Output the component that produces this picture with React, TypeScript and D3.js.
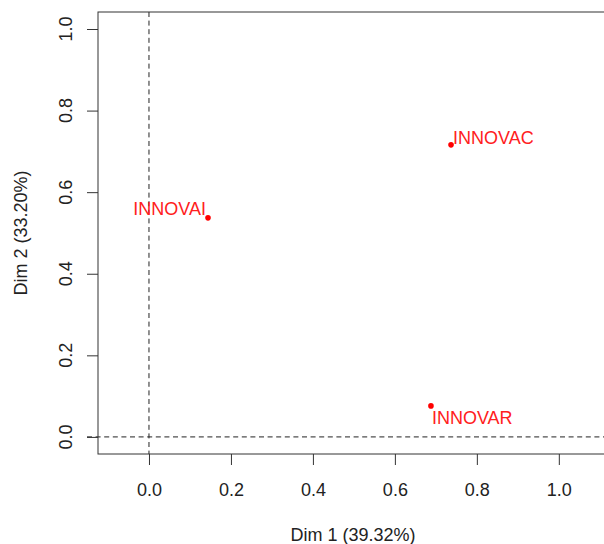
import { useEffect, useRef } from 'react'
import * as d3 from 'd3'

// coordinates of the supplementary variables (Dim 1, Dim 2)
const labels = ['INNOVAC', 'INNOVAI', 'INNOVAR']
const dim1 = [0.737, 0.144, 0.688]
const dim2 = [0.716, 0.537, 0.076]
const labelSide = ['right', 'left', 'below']

const xTicks = [0, 0.2, 0.4, 0.6, 0.8, 1.0]
const yTicks = [0, 0.2, 0.4, 0.6, 0.8, 1.0]
const xTitle = 'Dim 1 (39.32%)'
const yTitle = 'Dim 2 (33.20%)'

const W = 604
const H = 544

const App = () => {
  const svgRef = useRef<SVGSVGElement | null>(null)

  useEffect(() => {
    if (!svgRef.current) return
    const svg = d3.select(svgRef.current)
    svg.selectAll('*').remove()

    const font = '"Liberation Sans", Arial, sans-serif'
    const ink = '#222'

    const x = d3.scaleLinear().domain([-0.1244, 1.12]).range([98, 608])
    const y = d3.scaleLinear().domain([-0.0419, 1.0417]).range([454, 12])

    const [x0, x1] = x.range()
    const [y0, y1] = y.range()

    // reference lines at 0
    svg.append('line')
      .attr('x1', 87).attr('x2', W)
      .attr('y1', y(0)).attr('y2', y(0))
      .attr('stroke', ink).attr('stroke-width', 1)
      .attr('stroke-dasharray', '5,3.6')
    svg.append('line')
      .attr('x1', x(0)).attr('x2', x(0))
      .attr('y1', y1).attr('y2', y0)
      .attr('stroke', ink).attr('stroke-width', 1)
      .attr('stroke-dasharray', '5,3.6')

    // box
    svg.append('rect')
      .attr('x', x0).attr('y', y1)
      .attr('width', x1 - x0).attr('height', y0 - y1)
      .attr('fill', 'none')
      .attr('stroke', '#333').attr('stroke-width', 1)

    // x axis
    const xAxis = svg.append('g').attr('transform', `translate(0,${y0})`)
      .call(d3.axisBottom(x).tickValues(xTicks).tickSize(11).tickPadding(18)
        .tickFormat(d3.format('.1f')))
    xAxis.select('.domain').remove()
    xAxis.selectAll('line').attr('stroke', '#333')
    xAxis.selectAll('text')
      .attr('fill', ink)
      .style('font-family', font)
      .style('font-size', '18px')

    // y axis (rotated labels)
    const yAxis = svg.append('g').attr('transform', `translate(${x0},0)`)
      .call(d3.axisLeft(y).tickValues(yTicks).tickSize(11).tickFormat(() => ''))
    yAxis.select('.domain').remove()
    yAxis.selectAll('line').attr('stroke', '#333')

    svg.append('g').selectAll('text')
      .data(yTicks)
      .enter()
      .append('text')
      .attr('transform', (d) => `translate(72,${y(d)}) rotate(-90)`)
      .attr('text-anchor', 'middle')
      .attr('fill', ink)
      .style('font-family', font)
      .style('font-size', '18px')
      .text((d) => d3.format('.1f')(d))

    // axis titles
    svg.append('text')
      .attr('x', (x0 + x1) / 2)
      .attr('y', 541)
      .attr('text-anchor', 'middle')
      .attr('fill', ink)
      .style('font-family', font)
      .style('font-size', '18px')
      .text(xTitle)

    svg.append('text')
      .attr('transform', `translate(27,${(y0 + y1) / 2}) rotate(-90)`)
      .attr('text-anchor', 'middle')
      .attr('fill', ink)
      .style('font-family', font)
      .style('font-size', '18px')
      .text(yTitle)

    // points and labels
    const pts = labels.map((name, i) => ({ name, cx: dim1[i], cy: dim2[i], side: labelSide[i] }))

    svg.append('g').selectAll('circle')
      .data(pts)
      .enter()
      .append('circle')
      .attr('cx', (d) => x(d.cx))
      .attr('cy', (d) => y(d.cy))
      .attr('r', 2.8)
      .attr('fill', '#ff0000')

    svg.append('g').selectAll('text')
      .data(pts)
      .enter()
      .append('text')
      .attr('x', (d) => x(d.cx) + (d.side === 'left' ? -2 : d.side === 'right' ? 2 : 1))
      .attr('y', (d) => y(d.cy) + (d.side === 'left' ? -3 : d.side === 'right' ? -1 : 18))
      .attr('text-anchor', (d) => (d.side === 'left' ? 'end' : 'start'))
      .attr('fill', '#ff2020')
      .style('font-family', font)
      .style('font-size', '18px')
      .text((d) => d.name)
  }, [])

  return (
    <svg
      ref={svgRef}
      width={W}
      height={H}
      style={{ position: 'absolute', left: 0, top: 0, background: '#fff' }}
    />
  )
}

export default App
